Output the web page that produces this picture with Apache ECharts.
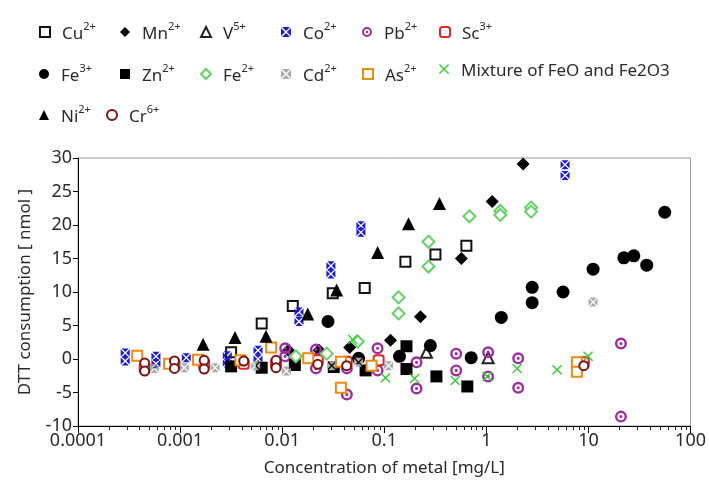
<!DOCTYPE html>
<html>
<head>
<meta charset="utf-8">
<script src="https://cdn.jsdelivr.net/npm/echarts@6.0.0/dist/echarts.min.js"></script>
<style>
  html, body { margin: 0; padding: 0; background: #fff; }
  #chart { width: 709px; height: 483px; }
</style>
</head>
<body>
<div id="chart"></div>
<script>
// DTT consumption (nmol) against metal concentration (mg/L), one array per species: [concentration, consumption]
const cu2 = [[0.00316, 1.0], [0.0063, 5.3], [0.0127, 7.9], [0.0313, 9.8], [0.0643, 10.6], [0.161, 14.5], [0.317, 15.6], [0.637, 16.9]];
const mn2 = [[0.0115, 1.3], [0.023, 1.3], [0.0458, 1.7], [0.115, 2.8], [0.226, 6.3], [0.569, 15.0], [1.14, 23.5], [2.29, 29.1]];
const v5 = [[0.259, 1.0], [1.04, 0.2]];
const co2 = [[0.00029, 0.9], [0.00029, -0.3], [0.00058, 0.4], [0.00058, -0.7], [0.00115, 0.2], [0.0029, 0.5], [0.0029, -0.6],
  [0.0058, 1.3], [0.0058, 0.0], [0.0146, 7.0], [0.0146, 5.6], [0.030, 13.9], [0.030, 12.7], [0.059, 19.9], [0.059, 18.9], [5.9, 29.0], [5.9, 27.4]];
const pb2 = [[0.0107, 1.6], [0.0107, 0.4], [0.0214, 1.4], [0.0214, -1.4], [0.043, -1.4], [0.043, -5.3], [0.086, 1.6], [0.086, -1.7],
  [0.207, -0.5], [0.207, -4.4], [0.506, 0.8], [0.506, -1.7], [1.04, 1.0], [1.04, -2.6], [2.05, 0.1], [2.05, -4.3], [20.8, 2.3], [20.8, -8.6]];
const sc3 = [[0.00045, -1.3], [0.00088, -0.8], [0.00172, -0.8], [0.0042, -0.7], [0.0087, -0.7], [0.0223, -0.2], [0.0428, -0.4], [0.088, -0.2], [9.0, -0.5]];
const fe3 = [[0.0281, 5.6], [0.056, 0.1], [0.141, 0.4], [0.283, 2.0], [0.71, 0.2], [1.40, 6.2], [2.81, 10.7], [2.81, 8.4], [5.64, 10.0],
  [11.1, 13.4], [22.2, 15.1], [27.8, 15.4], [37.2, 14.0], [55.9, 21.9]];
const zn2 = [[0.00316, -1.1], [0.0063, -1.3], [0.0133, -0.9], [0.032, -1.2], [0.0656, -1.7], [0.165, 1.9], [0.165, -1.5], [0.324, -2.6], [0.651, -4.1]];
const fe2 = [[0.0136, 0.4], [0.0273, 0.8], [0.055, 2.6], [0.138, 9.2], [0.138, 6.8], [0.271, 17.5], [0.271, 13.8], [0.681, 21.3],
  [1.37, 22.1], [1.37, 21.5], [2.74, 22.6], [2.74, 22.0]];
const cd2 = [[0.00056, -1.4], [0.0011, -1.3], [0.0022, -1.3], [0.0055, -1.0], [0.011, -1.8], [0.0306, -1.0], [0.056, -0.5], [0.11, -1.0], [11.1, 8.5]];
const as2 = [[0.00038, 0.5], [0.00078, -0.7], [0.0015, -0.1], [0.0039, -0.2], [0.0078, 1.7], [0.018, 0.1], [0.0376, -0.4], [0.0376, -4.3],
  [0.075, -1.0], [7.7, -0.5], [7.7, -1.9]];
const feMix = [[0.049, 2.9], [0.1026, -2.8], [0.198, -2.9], [0.495, -3.2], [1.02, -2.6], [2.0, -1.4], [4.92, -1.6], [9.9, 0.4]];
const ni2 = [[0.00168, 2.2], [0.00345, 3.2], [0.00694, 3.4], [0.0178, 6.7], [0.0342, 10.3], [0.0861, 15.9], [0.1726, 20.2], [0.347, 23.2]];
const cr6 = [[0.00045, -0.6], [0.00045, -1.8], [0.00088, -0.3], [0.00088, -1.4], [0.00172, -0.2], [0.00172, -1.5], [0.0042, -0.3],
  [0.0087, -0.2], [0.0087, -1.3], [0.0223, -0.8], [0.0428, -1.0], [9.0, -1.0]];

// Axis ticks
const xTickValues = [0.0001, 0.001, 0.01, 0.1, 1, 10, 100];
const xTickLabels = ['0.0001', '0.001', '0.01', '0.1', '1', '10', '100'];
const yTickValues = [-10, -5, 0, 5, 10, 15, 20, 25, 30];

const FONT = '"Noto Sans", "Liberation Sans", sans-serif';
const TEXT = '#2a2a2a';

// Symbol outlines
const crossedSquare = 'path://M1,0 L9,0 L5,4 Z M1,10 L9,10 L5,6 Z M0,1 L0,9 L4,5 Z M10,1 L10,9 L6,5 Z';
const dottedRing = 'path://M0,5 A5,5 0 1 1 10,5 A5,5 0 1 1 0,5 Z M2,5 A3,3 0 1 0 8,5 A3,3 0 1 0 2,5 Z M3.7,5 A1.3,1.3 0 1 1 6.3,5 A1.3,1.3 0 1 1 3.7,5 Z';
const xMark = 'path://M0,1 L1,0 L5,4 L9,0 L10,1 L6,5 L10,9 L9,10 L5,6 L1,10 L0,9 L4,5 Z';

// name, data, symbol, size, color, border width, legend column x, legend row y
const species = [
  ['Cu2+', cu2, 'emptyRect', 10, '#111', 1.5, 39, 21],
  ['Mn2+', mn2, 'diamond', 13, '#000', 0, 120, 21],
  ['V5+', v5, 'emptyTriangle', 11, '#222', 1, 200, 21],
  ['Co2+', co2, crossedSquare, 9, '#1a1ad0', 0, 281, 21],
  ['Pb2+', pb2, dottedRing, 12, '#a02ca0', 0, 362, 21],
  ['Sc3+', sc3, 'emptyRoundRect', 10, '#e2262c', 2, 439, 21],
  ['Fe3+', fe3, 'circle', 13, '#000', 0, 39, 63],
  ['Zn2+', zn2, 'rect', 12, '#000', 0, 120, 63],
  ['Fe2+', fe2, 'emptyDiamond', 12, '#66d066', 1.5, 200, 63],
  ['Cd2+', cd2, crossedSquare, 9, '#aaaaaa', 0, 281, 63],
  ['As2+', as2, 'emptyRect', 10, '#ee8a12', 2, 362, 63],
  ['Mixture of FeO and Fe2O3', feMix, xMark, 10, '#33cc33', 0, 439, 63],
  ['Ni2+', ni2, 'triangle', 13, '#000', 0, 39, 104],
  ['Cr6+', cr6, 'emptyCircle', 9, '#7a1414', 1.5, 106, 104]
];

const series = species.map(([name, data, symbol, size, color, bw]) => ({
  name,
  type: 'scatter',
  data,
  symbol,
  symbolSize: size,
  itemStyle: { color, borderColor: color, borderWidth: bw, opacity: 1 },
  emphasis: { disabled: true }
}));

// Superscripted charge in legend text
function legendText(name) {
  const m = name.match(/^([A-Za-z]+)(\d\+)$/);
  return m ? '{b|' + m[1] + '}{s|' + m[2] + '}' : '{b|' + name + '}';
}

const legends = species.map(([name, , symbol, , color, bw, cx, cy]) => ({
  data: [{ name, icon: symbol, itemStyle: { color, borderColor: color, borderWidth: Math.min(bw, 1.2) } }],
  left: cx - 5,
  top: cy - 5,
  itemWidth: 10,
  itemHeight: 10,
  selectedMode: false,
  formatter: legendText,
  textStyle: {
    padding: [0, 0, 0, 7],
    rich: {
      b: { fontFamily: FONT, fontSize: 17, color: TEXT, lineHeight: 22, verticalAlign: 'bottom' },
      s: { fontFamily: FONT, fontSize: 11, color: TEXT, lineHeight: 10, verticalAlign: 'top' }
    }
  }
}));

const chart = echarts.init(document.getElementById('chart'), null, { renderer: 'canvas' });
chart.setOption({
  animation: false,
  backgroundColor: '#fff',
  legend: legends,
  grid: { left: 78, right: 16, top: 158, bottom: 57, show: true, borderColor: '#999', borderWidth: 1 },
  xAxis: {
    type: 'log',
    logBase: 10,
    min: xTickValues[0],
    max: xTickValues[xTickValues.length - 1],
    name: 'Concentration of metal [mg/L]',
    nameLocation: 'middle',
    nameGap: 34,
    nameTextStyle: { fontFamily: FONT, fontSize: 17, color: TEXT },
    axisLine: { onZero: false, lineStyle: { color: '#000', width: 1 } },
    axisTick: { inside: false, length: 7, lineStyle: { color: '#000' } },
    splitLine: { show: false },
    axisLabel: {
      fontFamily: FONT, fontSize: 18, color: TEXT, margin: 6,
      formatter: v => {
        const i = xTickValues.findIndex(t => Math.abs(Math.log10(t) - Math.log10(v)) < 1e-6);
        return i >= 0 ? xTickLabels[i] : '';
      }
    }
  },
  yAxis: {
    type: 'value',
    min: yTickValues[0],
    max: yTickValues[yTickValues.length - 1],
    interval: 5,
    name: 'DTT consumption [ nmol ]',
    nameLocation: 'middle',
    nameGap: 44,
    nameTextStyle: { fontFamily: FONT, fontSize: 17, color: TEXT },
    axisLine: { show: true, onZero: false, lineStyle: { color: '#000', width: 1 } },
    axisTick: { show: true, inside: false, length: 5, lineStyle: { color: '#000' } },
    splitLine: { show: false },
    axisLabel: { fontFamily: FONT, fontSize: 18, color: TEXT, margin: 6 }
  },
  series
});

// Minor ticks at 2..9 within each decade, placed through the log axis scale
const axisY = Math.round(chart.convertToPixel({ yAxisIndex: 0 }, yTickValues[0]));
const minorLines = [];
for (let d = 0; d < xTickValues.length - 1; d++) {
  for (let k = 2; k <= 9; k++) {
    const px = Math.round(chart.convertToPixel({ xAxisIndex: 0 }, k * xTickValues[d])) + 0.5;
    minorLines.push({
      type: 'line',
      silent: true,
      z: 10,
      shape: { x1: px, y1: axisY, x2: px, y2: axisY + 4 },
      style: { stroke: '#222', lineWidth: 1 }
    });
  }
}
chart.setOption({ graphic: { elements: minorLines } });
</script>
</body>
</html>
